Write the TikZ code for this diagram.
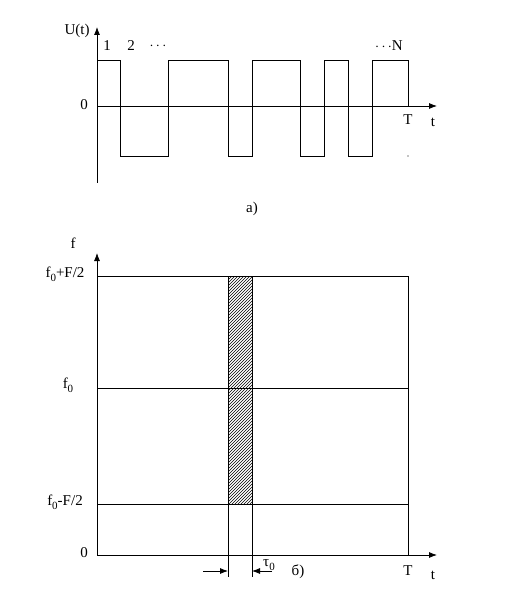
\documentclass[tikz,border=0pt]{standalone}
\usepackage{fontspec}
\setmainfont{Liberation Serif}
\usetikzlibrary{patterns,arrows.meta}
\newcommand{\lowidx}[1]{\raisebox{-0.55ex}{\fontsize{11}{11}\selectfont #1}}

\begin{document}
\begin{tikzpicture}[x=1pt,y=-1pt,line width=.8pt,font=\fontsize{15}{17}\selectfont,
  lbl/.style={inner sep=1pt},
  axis/.style={-{Latex[length=8pt,width=6pt]}}]
\useasboundingbox (0,0) rectangle (505,601);
% a) signal
\coordinate (uo) at (97,183);
\coordinate (ut) at (97,27);
\coordinate (ua) at (97,106);
\coordinate (ue) at (437,106);
\draw[axis] (uo)--(ut);
\draw[axis] (ua)--(ue);
\draw (97,60)--(120,60)--(120,156)--(168,156)--(168,60)--(228,60)--(228,156)--(252,156)--(252,60)
  --(300,60)--(300,156)--(324,156)--(324,60)--(348,60)--(348,156)--(372,156)--(372,60)--(408,60)--(408,106);
\fill (408,156) circle (.7);
\node[lbl] (ulab) at (77,31) {U(t)};
\node[lbl] (n1) at (107,46) {1};
\node[lbl] (n2) at (131,46) {2};
\node[lbl] (nd) at (158,46) {$\cdots$};
\node[lbl] (nN) at (389,46) {$\cdots$N};
\node[lbl] (uz) at (84,105) {0};
\node[lbl] (uT) at (408,120) {T};
\node[lbl] (ut1) at (433,122) {t};
\node[lbl] (capa) at (252,209) {a)};
% b) time-frequency plane
\coordinate (fo) at (97,555);
\coordinate (ft) at (97,253);
\coordinate (fe) at (437,555);
\draw[axis] (fo)--(ft);
\draw[axis] (fo)--(fe);
\draw (97,276)--(408,276) (97,388)--(408,388) (97,504)--(408,504) (408,276)--(408,555);
\draw[pattern=north east lines] (228,276) rectangle (252,504);
\coordinate (ca) at (228,276);
\coordinate (cb) at (252,276);
\coordinate (da) at (228,577);
\coordinate (db) at (252,577);
\draw (ca)--(da) (cb)--(db);
\coordinate (la) at (203,571);
\coordinate (lb) at (228,571);
\coordinate (ra) at (272,571);
\coordinate (rb) at (252,571);
\draw[axis] (la)--(lb);
\draw[axis] (ra)--(rb);
\node[lbl] (flab) at (73,243) {f};
\node[lbl] (fhi) at (65,274) {f\lowidx{0}+F/2};
\node[lbl] (fmid) at (68,385) {f\lowidx{0}};
\node[lbl] (flo) at (65,502) {f\lowidx{0}-F/2};
\node[lbl] (fz) at (84,553) {0};
\node[lbl] (tau) at (269,565) {τ\lowidx{0}};
\node[lbl] (capb) at (298,572) {б)};
\node[lbl] (fT) at (408,571) {T};
\node[lbl] (ft1) at (433,575) {t};
\end{tikzpicture}
\end{document}
